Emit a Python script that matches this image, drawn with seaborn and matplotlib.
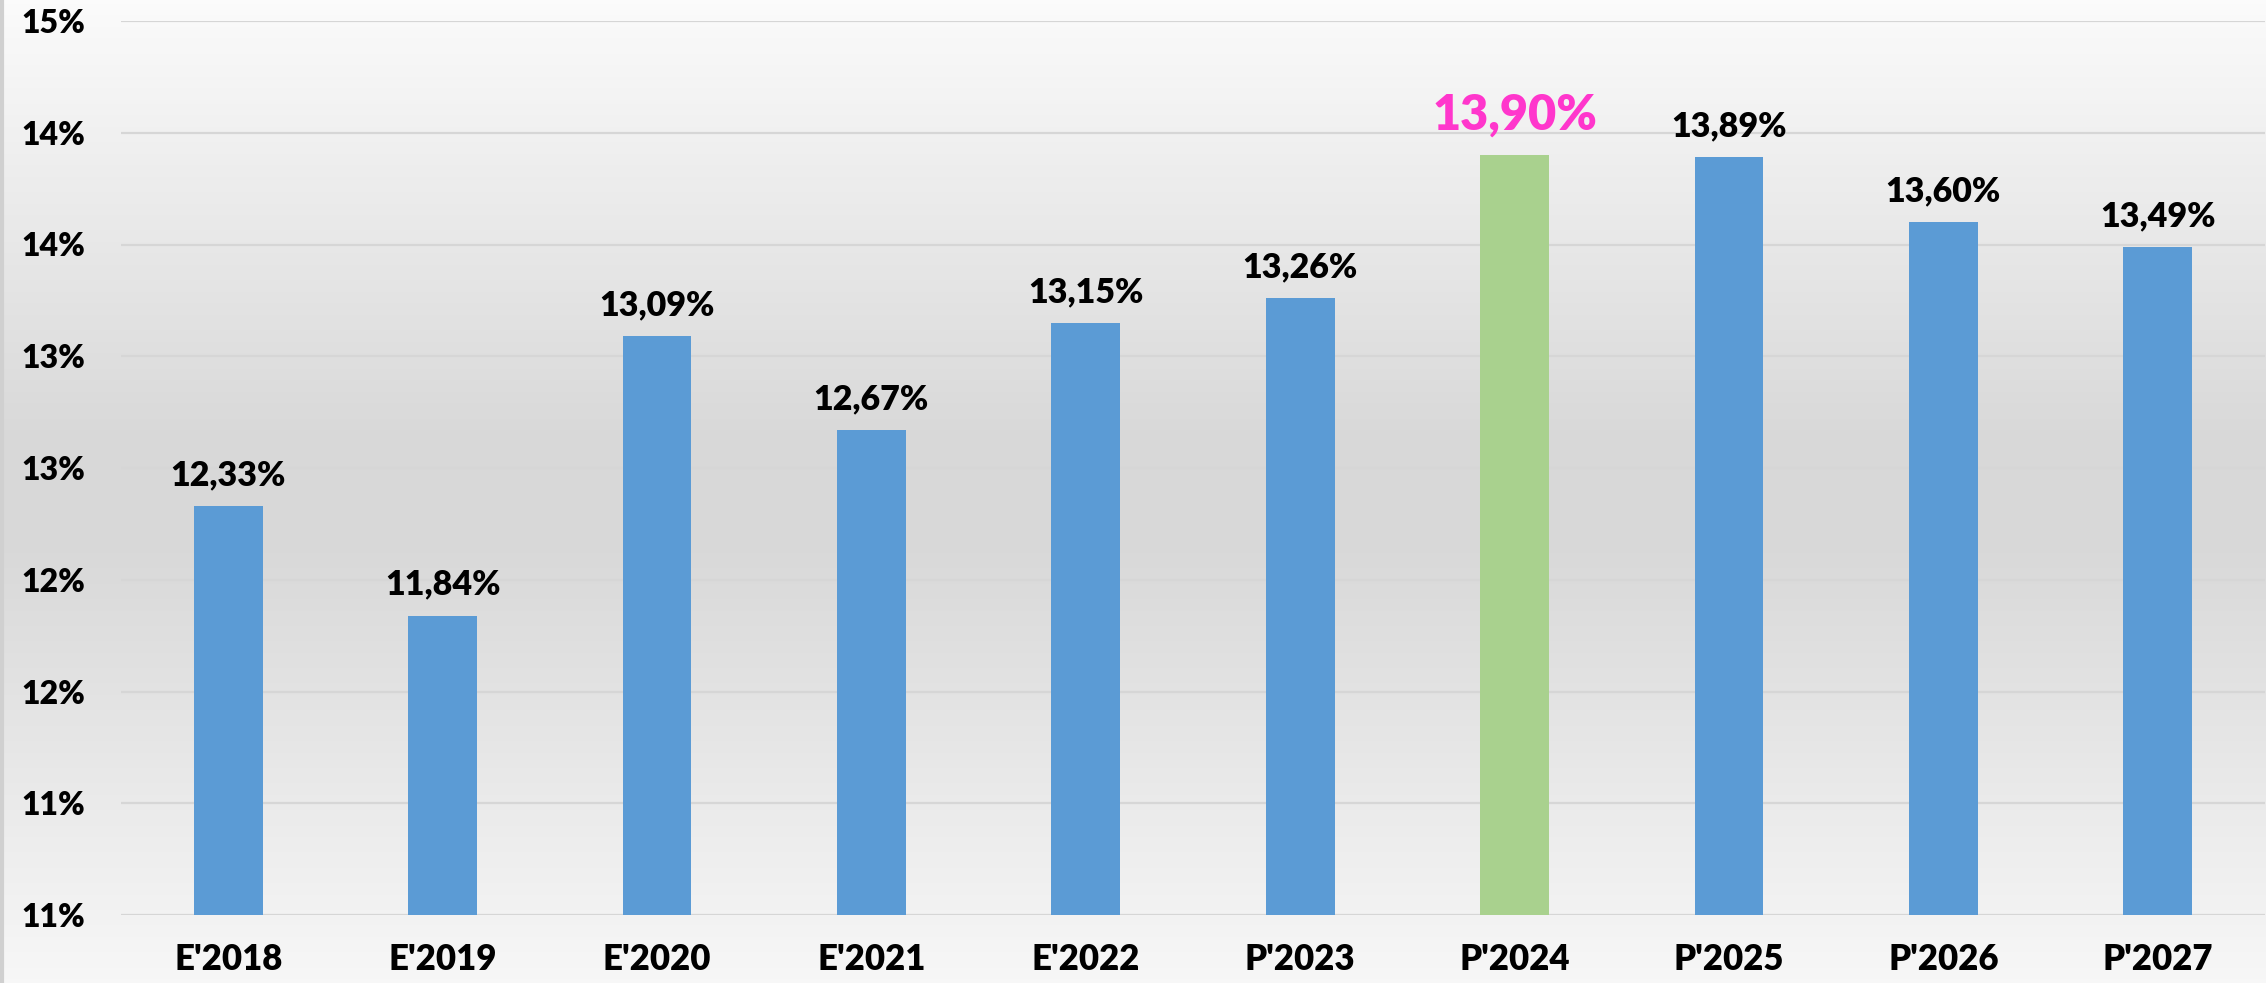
import numpy as np
import pandas as pd
import matplotlib
matplotlib.use("Agg")
import matplotlib.pyplot as plt
from matplotlib.colors import LinearSegmentedColormap
import seaborn as sns

# data
years = ["E'2018", "E'2019", "E'2020", "E'2021", "E'2022",
         "P'2023", "P'2024", "P'2025", "P'2026", "P'2027"]
values = [12.33, 11.84, 13.09, 12.67, 13.15, 13.26, 13.90, 13.89, 13.60, 13.49]
highlight = "P'2024"
y_ticks = [10.5, 11.0, 11.5, 12.0, 12.5, 13.0, 13.5, 14.0, 14.5]
y_tick_labels = ["11%", "11%", "12%", "12%", "13%", "13%", "14%", "14%", "15%"]

BLUE = "#5B9BD5"
GREEN = "#A9D18E"
PINK = "#FF36CC"
WEIGHT = "heavy"

sns.set_theme(style="white")
plt.rcParams["font.family"] = ["Lato", "DejaVu Sans"]

df = pd.DataFrame({"year": years, "value": values})
palette = {y: (GREEN if y == highlight else BLUE) for y in years}

fig = plt.figure(figsize=(22.66, 9.83), dpi=100)

# gradient background (white -> gray -> white)
bg = fig.add_axes([0, 0, 1, 1], zorder=-10)
cmap = LinearSegmentedColormap.from_list(
    "bg", [(0, "#fbfbfb"), (0.45, "#d8d8d8"), (0.55, "#d8d8d8"), (1, "#f7f7f7")])
bg.imshow(np.linspace(0, 1, 256).reshape(-1, 1), aspect="auto", cmap=cmap,
          extent=[0, 1, 0, 1])
bg.axvline(0.0008, color="#d0d0d0", lw=3)
bg.set_axis_off()

ax = fig.add_axes([121 / 2266, 1 - 915 / 983, (2265 - 121) / 2266, (915 - 21) / 983])
ax.patch.set_alpha(0)

sns.barplot(data=df, x="year", y="value", hue="year", palette=palette,
            width=0.32, legend=False, ax=ax, zorder=3, saturation=1,
            linewidth=0)

ax.set_ylim(10.5, 14.5)
ax.set_yticks(y_ticks)
ax.set_yticklabels(y_tick_labels)
ax.grid(axis="y", color="#d6d6d6", lw=1.6, zorder=0)
ax.set_axisbelow(True)
for s in ax.spines.values():
    s.set_visible(False)
ax.tick_params(axis="y", length=0, pad=26, labelsize=23)
ax.tick_params(axis="x", length=0, pad=20, labelsize=25)
ax.set_xlabel("")
ax.set_ylabel("")
for lbl in ax.get_xticklabels() + ax.get_yticklabels():
    lbl.set_fontweight(WEIGHT)
    lbl.set_color("black")

for i, (yr, v) in enumerate(zip(years, values)):
    txt = f"{v:.2f}%".replace(".", ",")
    if yr == highlight:
        ax.annotate(txt, (i, v), xytext=(0, 18), textcoords="offset points",
                    ha="center", va="baseline", fontsize=35, fontweight=WEIGHT,
                    color=PINK)
    else:
        ax.annotate(txt, (i, v), xytext=(0, 15), textcoords="offset points",
                    ha="center", va="baseline", fontsize=24.5, fontweight=WEIGHT,
                    color="black")

fig.savefig("out.png", dpi=100)
